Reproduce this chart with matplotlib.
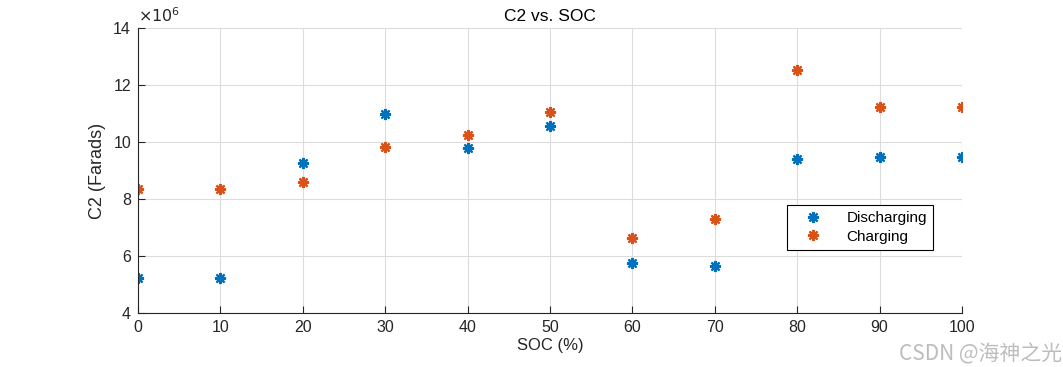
import matplotlib
matplotlib.use("Agg")
import matplotlib.pyplot as plt

# SOC points and C2 values (x1e6 F)
soc = [0, 10, 20, 30, 40, 50, 60, 70, 80, 90, 100]
c2_discharging = [5.22, 5.22, 9.26, 10.98, 9.79, 10.56, 5.75, 5.65, 9.40, 9.48, 9.48]
c2_charging = [8.35, 8.35, 8.60, 9.82, 10.25, 11.05, 6.63, 7.30, 12.53, 11.23, 11.23]
x_ticks = [0, 10, 20, 30, 40, 50, 60, 70, 80, 90, 100]
y_ticks = [4, 6, 8, 10, 12, 14]

BLUE = "#0072BD"
ORANGE = "#D95319"
DARK = "#262626"

plt.rcParams["font.family"] = ["Liberation Sans", "DejaVu Sans"]

fig = plt.figure(figsize=(10.63, 3.67), dpi=100)
ax = fig.add_axes([0.1298, 0.1471, 0.7752, 0.7766])

mk = dict(marker=(8, 2, 0), markersize=8, markeredgewidth=1.6, linestyle="none")
ax.plot(soc, c2_discharging, color=BLUE, markeredgecolor=BLUE, label="Discharging", **mk)
ax.plot(soc, c2_charging, color=ORANGE, markeredgecolor=ORANGE, label="Charging", **mk)

ax.set_xlim(0, 100)
ax.set_ylim(4, 14)
ax.set_xticks(x_ticks)
ax.set_yticks(y_ticks)
ax.grid(True, color="#DCDCDC", linewidth=0.8)
ax.set_axisbelow(True)
for side in ("top", "right"):
    ax.spines[side].set_visible(False)
for side in ("left", "bottom"):
    ax.spines[side].set_color(DARK)
    ax.spines[side].set_linewidth(0.8)
ax.tick_params(direction="in", length=5, width=0.8, colors=DARK, labelsize=11.5, pad=5)

ax.set_title("C2 vs. SOC", fontsize=12.5, color="black", pad=5)
ax.set_xlabel("SOC (%)", fontsize=12, color=DARK, labelpad=2)
ax.set_ylabel("C2 (Farads)", fontsize=13, color=DARK, labelpad=5)
ax.text(0.0, 1.012, r"$\times10^{6}$", transform=ax.transAxes, fontsize=11.5,
        color=DARK, ha="left", va="bottom")

leg = ax.legend(loc="upper left", bbox_to_anchor=(0.7876, 0.379),
                fontsize=11, frameon=True, fancybox=False,
                handletextpad=0.9, borderpad=0.4, labelspacing=0.3,
                handlelength=2.6, borderaxespad=0)
leg.get_frame().set_edgecolor("black")
leg.get_frame().set_linewidth(0.8)
leg.get_frame().set_alpha(1)

fig.text(0.999, 0.034, "CSDN @海神之光", fontsize=15, color="#BDBDBD",
         ha="right", va="center",
         family=["Noto Sans CJK SC", "DejaVu Sans"])

fig.savefig("out.png", dpi=100)
